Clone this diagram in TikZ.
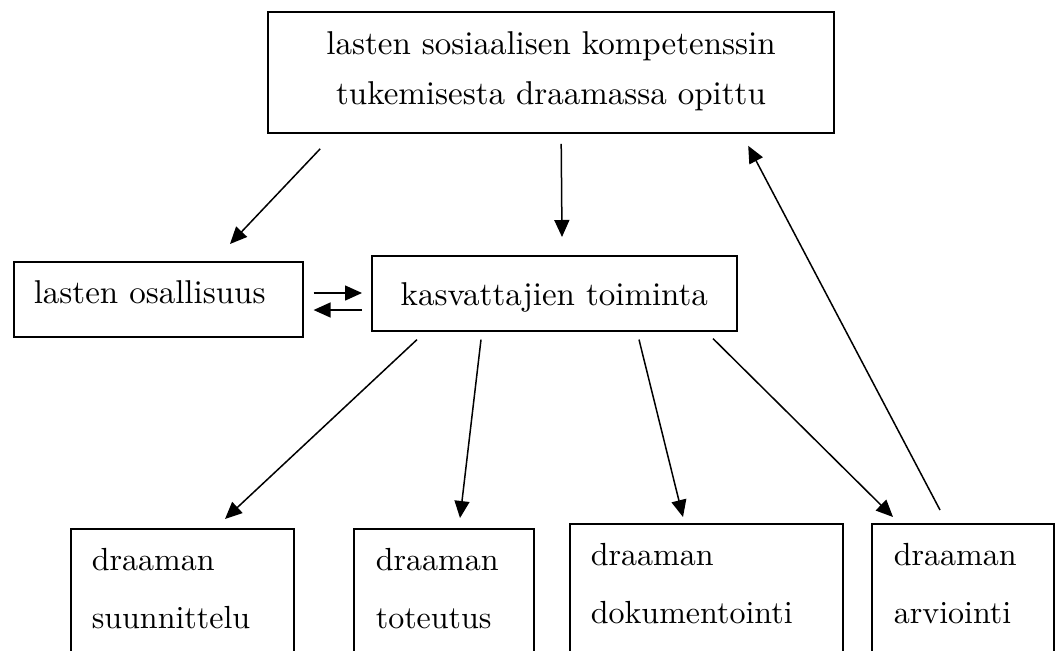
\documentclass[tikz,border=0pt]{standalone}
\usepackage{fontspec}
\setmainfont{lmroman10-regular.otf}
\usetikzlibrary{arrows.meta}
\begin{document}
\begin{tikzpicture}[x=1pt,y=-1pt,
  boxline/.style={draw=black,line width=1.6pt},
  topbox/.style={boxline,inner sep=0pt,align=center,text width=566pt,
    text height=43pt,text depth=78pt,font=\fontsize{33}{50}\selectfont},
  midbox/.style={boxline,inner ysep=0pt,text height=42pt,text depth=33pt,
    font=\fontsize{33}{50}\selectfont},
  lowbox/.style={boxline,anchor=north west,inner ysep=0pt,inner xsep=21pt,align=left,
    text height=42pt,text depth=160pt,font=\fontsize{32}{58}\selectfont},
  arr/.style={line width=1.5pt,-{Triangle[length=17pt,width=15pt]}}]
\useasboundingbox (0,0) rectangle (1059,650);
\clip (0,0) rectangle (1059,650);

\node[topbox] (top) at (551,72.5) {lasten sosiaalisen kompetenssin\\tukemisesta draamassa opittu};
\node[midbox,anchor=north west,inner xsep=20pt,text width=249pt,align=left] (lo) at (13,261) {lasten osallisuus};
\node[midbox,anchor=north west,inner xsep=0pt,text width=365pt,align=center,text height=50pt,text depth=25pt] (kv) at (371,255) {kasvattajien toiminta};

\node[lowbox,text width=181pt] (b1) at (70,528) {draaman\\suunnittelu};
\node[lowbox,inner xsep=22pt,text width=136pt] (b2) at (353,528) {draaman\\toteutus};
\node[lowbox,text width=231pt] (b3) at (569,523) {draaman\\dokumentointi};
\node[lowbox,inner xsep=22pt,text width=138pt] (b4) at (871,523) {draaman\\arviointi};

\draw[arr] ([shift={(53,15)}]top.south west) -- ([shift={(217,-17)}]lo.north west);
\draw[arr] ([shift={(294,10)}]top.south west) -- ([shift={(191,-18)}]kv.north west);

\draw[arr] ([shift={(10,32)}]lo.north east) -- ([shift={(-9,38)}]kv.north west);
\draw[arr] ([shift={(-9,55)}]kv.north west) -- ([shift={(10,49)}]lo.north east);

\draw[arr] ([shift={(46,8)}]kv.south west) -- ([shift={(155,-9)}]b1.north west);
\draw[arr] ([shift={(110,8)}]kv.south west) -- ([shift={(107,-10)}]b2.north west);
\draw[arr] ([shift={(268,8)}]kv.south west) -- ([shift={(114,-6)}]b3.north west);
\draw[arr] ([shift={(342,7)}]kv.south west) -- ([shift={(22,-6)}]b4.north west);

\draw[arr] ([shift={(69,-13)}]b4.north west) -- ([shift={(481,12)}]top.south west);
\end{tikzpicture}
\end{document}
